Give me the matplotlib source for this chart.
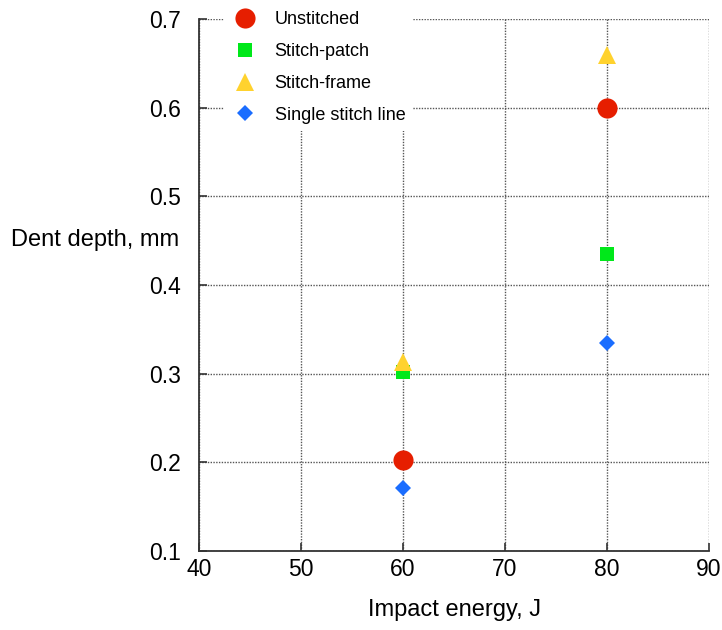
import matplotlib
matplotlib.use("Agg")
import matplotlib.pyplot as plt

plt.rcParams['font.family'] = ['Liberation Sans', 'DejaVu Sans']

energy = [60, 80]
series = ["Unstitched", "Stitch-patch", "Stitch-frame", "Single stitch line"]
unstitched = [0.203, 0.600]
stitch_patch = [0.302, 0.435]
stitch_frame = [0.313, 0.659]
single_line = [0.171, 0.335]
x_ticks = [40, 50, 60, 70, 80, 90]
y_ticks = [0.1, 0.2, 0.3, 0.4, 0.5, 0.6, 0.7]

fig = plt.figure(figsize=(7.22, 6.30), dpi=100)
ax = fig.add_axes([199/722, 1-551/630, 510/722, 532/630])

styles = [
    (unstitched, 'o', '#e61e00', 14.5),
    (stitch_patch, 's', '#00e81a', 10.5),
    (stitch_frame, '^', '#ffd22e', 13),
    (single_line, 'D', '#1a6dff', 8.5),
]
for name, (vals, m, c, ms) in zip(series, styles):
    ax.plot(energy, vals, linestyle='none', marker=m, color=c, markersize=ms,
            markeredgewidth=0, label=name, zorder=3)

ax.set_xlim(40, 90)
ax.set_ylim(0.1, 0.7)
ax.set_xticks(x_ticks)
ax.set_yticks(y_ticks)
ax.set_xticklabels([str(v) for v in x_ticks])
ax.set_yticklabels([f"{v:.1f}" for v in y_ticks])
ax.tick_params(direction='in', length=6, width=1.2, color='#333333',
               labelsize=16.5)
ax.tick_params(axis='y', pad=13)
ax.tick_params(axis='x', pad=5)
ax.grid(True, linestyle=(0, (1, 1)), color='#555555', linewidth=1)
for s in ['top', 'right']:
    ax.spines[s].set_visible(False)
for s in ['left', 'bottom']:
    ax.spines[s].set_linewidth(1.3)
    ax.spines[s].set_color('#333333')

ax.set_xlabel("Impact energy, J", fontsize=17, va='center')
ax.xaxis.set_label_coords(0.5, -0.111)
ax.set_ylabel("Dent depth, mm", fontsize=17, rotation=0, ha='center', va='center')
ax.yaxis.set_label_coords(-0.204, 0.585)

leg = ax.legend(loc='upper left', bbox_to_anchor=(215/722, 1+5/630),
                bbox_transform=fig.transFigure, fontsize=13, frameon=True,
                facecolor='white', edgecolor='none', framealpha=1,
                labelspacing=0.82, handletextpad=0.9, handlelength=1.5,
                borderpad=0.4, fancybox=False)
leg.set_zorder(5)

fig.savefig("out.png", dpi=100)
